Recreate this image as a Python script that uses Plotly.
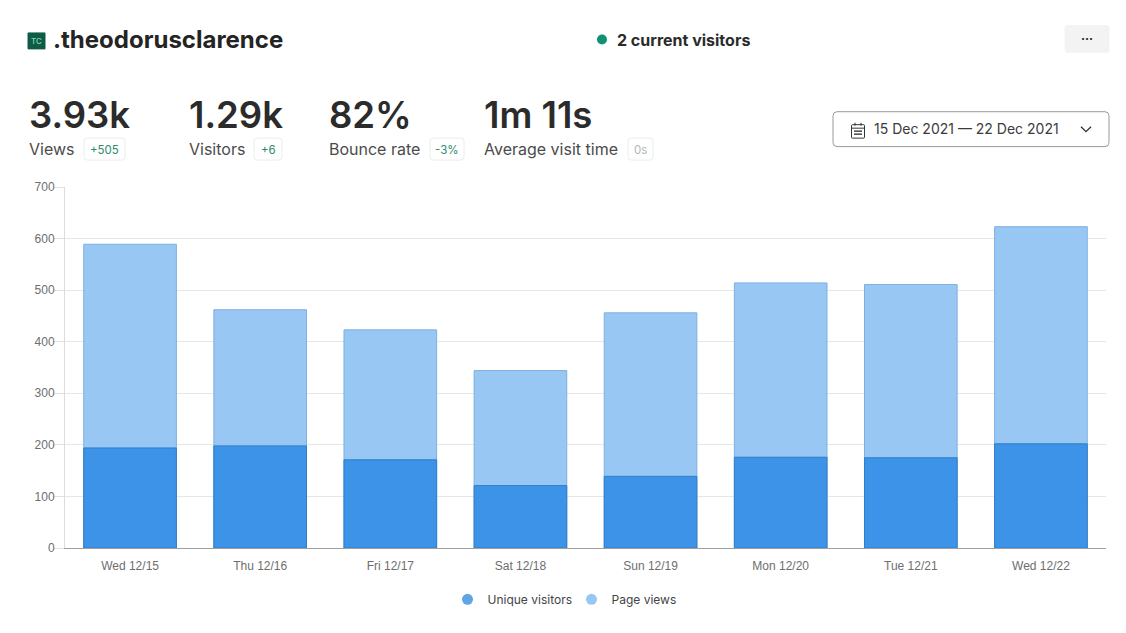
import plotly.graph_objects as go

days = ["Wed 12/15", "Thu 12/16", "Fri 12/17", "Sat 12/18", "Sun 12/19", "Mon 12/20", "Tue 12/21", "Wed 12/22"]
page_views = [589, 462, 423, 344, 456, 514, 511, 623]
unique_visitors = [194, 198, 171, 121, 139, 176, 175, 202]
y_ticks = [0, 100, 200, 300, 400, 500, 600, 700]

L, R, T, B = 65, 1106, 186.5, 548.5
def px(x): return (x - L) / (R - L)
def py(y): return (B - y) / (B - T)

fig = go.Figure()
fig.add_bar(x=days, y=page_views, name="Page views", width=0.712, showlegend=False,
            marker=dict(color="#99c7f4", line=dict(color="#7db0df", width=1)))
fig.add_bar(x=days, y=unique_visitors, name="Unique visitors", width=0.712, showlegend=False,
            marker=dict(color="#3d93e8", line=dict(color="#2f7ec6", width=1)))
fig.add_scatter(x=[None], y=[None], mode="markers", name="Unique visitors",
                marker=dict(symbol="circle", size=11, color="#61a4e4"))
fig.add_scatter(x=[None], y=[None], mode="markers", name="Page views",
                marker=dict(symbol="circle", size=11, color="#99c7f4"))

INTER = "Inter"
DARK = "#2b2b2b"
GREY = "#4b4b4b"
ann = []
def text(x, y, s, size, color=DARK, weight=400, anchor="left", family=INTER):
    ann.append(dict(x=px(x), y=py(y), xref="paper", yref="paper", text=s, showarrow=False,
                    xanchor=anchor, yanchor="middle", xshift=-2 if anchor == "left" else 0, yshift=0,
                    font=dict(family=family, size=size, color=color, weight=weight)))

shapes = []
def rrect(x0, y0, x1, y1, r, fill, line, width=1):
    X0, X1, Y0, Y1 = px(x0), px(x1), py(y0), py(y1)
    rx, ry = r / (R - L), r / (B - T)
    path = (f"M {X0+rx} {Y0} L {X1-rx} {Y0} Q {X1} {Y0} {X1} {Y0-ry} L {X1} {Y1+ry} Q {X1} {Y1} {X1-rx} {Y1} "
            f"L {X0+rx} {Y1} Q {X0} {Y1} {X0} {Y1+ry} L {X0} {Y0-ry} Q {X0} {Y0} {X0+rx} {Y0} Z")
    shapes.append(dict(type="path", path=path, xref="paper", yref="paper", fillcolor=fill,
                       line=dict(color=line, width=width)))
def seg(points, color, width=1.2):
    path = "M " + " L ".join(f"{px(a)} {py(b)}" for a, b in points)
    shapes.append(dict(type="path", path=path, xref="paper", yref="paper",
                       line=dict(color=color, width=width)))

# Logo and title
rrect(28, 32, 45, 48, 0, "#0f5c46", "#0f5c46")
text(36.5, 40, "TC", 8, "#7fd8b8", 500, "center")
text(53, 39, ".theodorusclarence", 24, "#242424", 700)

# Live visitors
shapes.append(dict(type="circle", xref="paper", yref="paper", x0=px(597), x1=px(607), y0=py(33.5), y1=py(43.5),
                   fillcolor="#10916f", line=dict(width=0)))
text(617, 39, "2 current visitors", 16, "#2b2b2b", 700)

# More button
rrect(1065, 24.5, 1109, 51.5, 3, "#f3f3f3", "#f3f3f3")
text(1087, 38, "···", 12, "#222222", 700, "center")

# Stats
stats = [(29, "3.93k", "Views", 84, 125, "+505", "#2f8a6b"),
         (189, "1.29k", "Visitors", 254, 282, "+6", "#2f8a6b"),
         (329, "82%", "Bounce rate", 430, 464, "-3%", "#2f8a6b"),
         (484, "1m 11s", "Average visit time", 628, 653, "0s", "#b5b5b5")]
for x, big, lab, b0, b1, delta, col in stats:
    text(x, 114.5, big, 36.5, DARK, 600)
    text(x, 148.5, lab, 16, GREY, 400)
    rrect(b0, 137.5, b1, 159.5, 3, "#ffffff", "#e9eeec")
    text((b0 + b1) / 2, 149, delta, 11.5, col, 400, "center")

# Date picker
rrect(833, 111, 1109, 146, 4, "#ffffff", "#9a9a9a")
text(874, 128, "15 Dec 2021 — 22 Dec 2021", 14, "#3b3b3b", 400)
rrect(851.5, 124, 864.5, 137.5, 1, "#ffffff", "#333333", 1)
seg([(851.5, 127.5), (864.5, 127.5)], "#333333", 1)
seg([(855, 122), (855, 125)], "#333333", 1)
seg([(861, 122), (861, 125)], "#333333", 1)
for yy in (130.5, 133.5):
    seg([(854, yy), (862, yy)], "#444444", 1.5)
seg([(1081, 126), (1086, 131), (1091, 126)], "#333333", 1.3)

fig.update_layout(
    width=1126, height=633, barmode="overlay",
    margin=dict(l=L, r=1126 - R, t=T, b=633 - B, pad=0),
    paper_bgcolor="#ffffff", plot_bgcolor="#ffffff",
    font=dict(family="Liberation Sans", size=12, color="#666666"),
    xaxis=dict(type="category", categoryorder="array", categoryarray=days, showgrid=False,
               showline=True, linecolor="#a0a0a0", linewidth=1, ticks="outside", ticklen=7,
               tickcolor="rgba(0,0,0,0)",
               tickfont=dict(family="Liberation Sans", size=12, color="#6e6e6e")),
    yaxis=dict(range=[0, 700], tickvals=y_ticks, showgrid=True, gridcolor="#e6e6e6", gridwidth=1,
               showline=True, linecolor="#dddddd", linewidth=1, ticks="outside", ticklen=10,
               tickcolor="#e0e0e0", zeroline=False, ticklabelstandoff=-3,
               tickfont=dict(family="Liberation Sans", size=12, color="#6e6e6e")),
    legend=dict(orientation="h", x=px(447.5), xanchor="left", y=py(600), yanchor="middle",
                font=dict(family=INTER, size=12, color="#444444"), itemwidth=30,
                entrywidth=79, entrywidthmode="pixels",
                bgcolor="rgba(0,0,0,0)"),
    annotations=ann, shapes=shapes,
)
fig.write_html("out.html", config=dict(displayModeBar=False), post_script="document.body.style.margin='0';")
